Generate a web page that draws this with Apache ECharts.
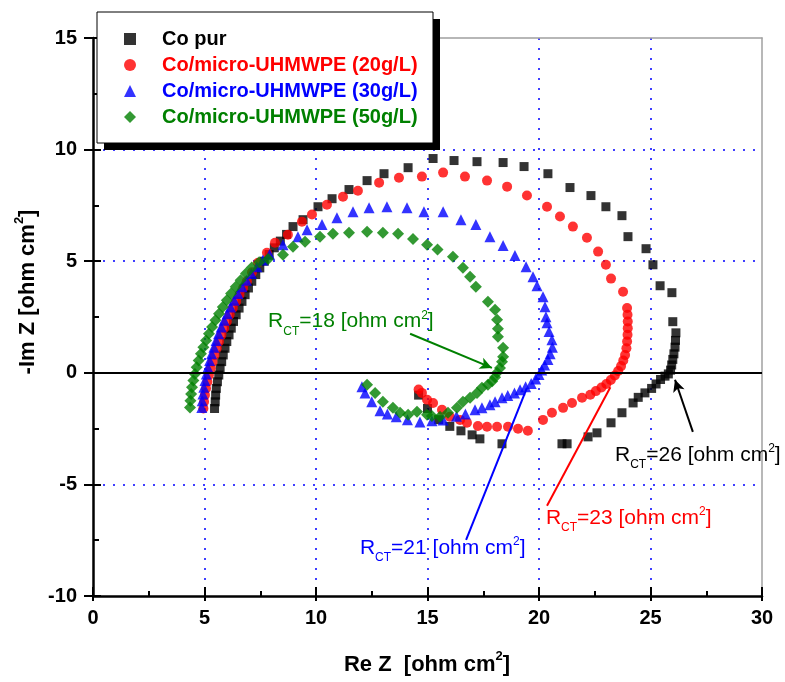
<!DOCTYPE html>
<html><head><meta charset="utf-8">
<script src="https://cdn.jsdelivr.net/npm/echarts@6/dist/echarts.min.js"></script>
<style>html,body{margin:0;padding:0;background:#fff}#c{width:785px;height:682px}</style>
</head><body><div id="c"></div>
<script>
const seriesNames = ['Co pur', 'Co/micro-UHMWPE (20g/L)', 'Co/micro-UHMWPE (30g/L)', 'Co/micro-UHMWPE (50g/L)'];
const rctValues = ['26', '23', '21', '18'];
const xTickValues = [0, 5, 10, 15, 20, 25, 30];
const yTickValues = [-10, -5, 0, 5, 10, 15];

const coPur = [[5.45,-1.6],[5.48,-1.3],[5.5,-1.0],[5.53,-0.7],[5.58,-0.4],[5.64,-0.1],[5.7,0.2],[5.77,0.5],[5.84,0.8],[5.92,1.1],[6.0,1.4],[6.1,1.7],[6.2,2.0],[6.3,2.3],[6.42,2.6],[6.55,2.9],[6.68,3.2],[6.82,3.5],[6.97,3.8],[7.12,4.1],[7.3,4.4],[7.48,4.7],[7.68,5.0],[7.9,5.3],[8.13,5.6],[8.4,5.9],[8.68,6.2],[8.97,6.55],[9.42,6.86],[10.09,7.44],[10.72,7.8],[11.48,8.21],[12.29,8.61],[13.05,8.92],[14.13,9.19],[15.25,9.6],[16.19,9.51],[17.22,9.46],[18.39,9.42],[19.33,9.24],[20.4,8.92],[21.39,8.3],[22.33,7.94],[23.0,7.44],[23.72,7.04],[23.99,6.1],[24.8,5.56],[25.11,4.84],[25.43,3.9],[25.96,3.59],[26.0,2.29],[26.14,1.79],[26.12,1.45],[26.1,1.15],[26.05,0.85],[26.0,0.6],[25.95,0.35],[25.9,0.12],[25.8,-0.05],[25.65,-0.15],[25.45,-0.3],[25.25,-0.5],[25.05,-0.7],[24.75,-0.9],[24.45,-1.1],[24.22,-1.35],[23.72,-1.79],[23.23,-2.24],[22.6,-2.69],[22.2,-2.87],[21.26,-3.18],[21.03,-3.18],[18.34,-3.18],[17.35,-2.96],[17.0,-2.78],[16.5,-2.6],[16.0,-2.4],[15.5,-2.1],[15.0,-1.6],[14.6,-1.0]];

const co20 = [[4.95,-1.6],[4.98,-1.3],[5.02,-1.0],[5.07,-0.7],[5.13,-0.4],[5.2,-0.1],[5.28,0.2],[5.36,0.5],[5.45,0.8],[5.55,1.1],[5.65,1.4],[5.76,1.7],[5.88,2.0],[6.0,2.3],[6.13,2.6],[6.27,2.9],[6.42,3.2],[6.57,3.5],[6.73,3.8],[6.9,4.1],[7.13,4.5],[7.4,4.93],[7.8,5.38],[8.16,5.83],[8.74,6.19],[9.37,6.77],[9.82,7.09],[10.49,7.53],[11.21,7.89],[11.88,8.16],[12.83,8.52],[13.72,8.74],[14.75,8.79],[15.7,8.97],[16.68,8.79],[17.67,8.61],[18.57,8.34],[19.46,7.94],[20.36,7.44],[20.94,7.0],[21.52,6.55],[22.15,6.05],[22.65,5.43],[23.0,4.84],[23.23,4.22],[23.77,3.63],[23.95,2.9],[23.97,2.6],[23.98,2.3],[23.98,2.0],[23.97,1.7],[23.95,1.4],[23.92,1.1],[23.86,0.8],[23.78,0.55],[23.68,0.3],[23.55,0.08],[23.4,-0.12],[23.22,-0.32],[23.02,-0.5],[22.8,-0.66],[22.55,-0.82],[22.3,-0.98],[21.93,-1.12],[21.48,-1.35],[21.08,-1.57],[20.58,-1.79],[20.18,-2.11],[19.5,-2.6],[19.06,-2.51],[18.61,-2.42],[18.12,-2.42],[17.67,-2.42],[17.26,-2.38],[16.77,-2.24],[16.46,-2.11],[16.0,-1.97],[15.65,-1.66],[15.25,-1.35],[14.98,-1.21],[14.75,-0.9],[14.6,-0.75]];

const co30 = [[4.88,-1.55],[4.9,-1.25],[4.93,-0.95],[4.97,-0.65],[5.02,-0.35],[5.08,-0.05],[5.15,0.25],[5.23,0.55],[5.32,0.85],[5.42,1.15],[5.52,1.45],[5.63,1.75],[5.75,2.05],[5.88,2.35],[6.02,2.65],[6.17,2.95],[6.33,3.25],[6.5,3.55],[6.68,3.85],[6.88,4.15],[7.1,4.45],[7.35,4.75],[7.62,5.05],[7.92,5.3],[8.52,5.74],[9.19,6.1],[9.6,6.41],[10.27,6.64],[10.94,6.95],[11.66,7.22],[12.38,7.4],[13.18,7.44],[14.08,7.4],[14.84,7.22],[15.7,7.22],[16.5,6.86],[17.17,6.64],[17.8,6.1],[18.39,5.7],[18.92,5.25],[19.42,4.75],[19.73,4.3],[19.91,3.9],[20.18,3.41],[20.27,2.96],[20.31,2.51],[20.36,2.24],[20.45,1.85],[20.58,1.48],[20.6,1.15],[20.5,0.85],[20.4,0.6],[20.25,0.35],[20.12,0.12],[20.0,-0.08],[19.85,-0.28],[19.65,-0.48],[19.4,-0.62],[19.15,-0.76],[18.9,-0.9],[18.6,-1.02],[18.34,-1.12],[18.03,-1.3],[17.8,-1.43],[17.44,-1.57],[17.13,-1.66],[16.7,-1.85],[16.3,-1.95],[15.7,-2.11],[15.2,-2.15],[14.66,-2.2],[14.1,-2.1],[13.6,-1.97],[13.2,-1.85],[12.87,-1.7],[12.5,-1.3],[12.2,-0.9],[12.06,-0.63]];

const co50 = [[4.35,-1.55],[4.37,-1.25],[4.4,-0.95],[4.44,-0.65],[4.5,-0.35],[4.57,-0.05],[4.65,0.25],[4.74,0.55],[4.84,0.85],[4.95,1.15],[5.07,1.45],[5.2,1.75],[5.34,2.05],[5.49,2.35],[5.65,2.65],[5.82,2.95],[6.0,3.25],[6.19,3.55],[6.4,3.85],[6.62,4.15],[6.86,4.45],[7.12,4.72],[7.45,4.95],[7.85,5.1],[8.52,5.29],[8.97,5.65],[9.51,5.87],[10.18,6.1],[10.76,6.23],[11.48,6.28],[12.29,6.32],[13.0,6.28],[13.68,6.23],[14.35,6.0],[14.98,5.74],[15.45,5.52],[16.14,5.2],[16.59,4.71],[16.91,4.3],[17.17,3.86],[17.71,3.18],[18.03,2.83],[18.12,2.38],[18.16,1.97],[18.16,1.61],[18.39,1.12],[18.39,0.72],[18.34,0.49],[18.25,0.22],[18.12,0.0],[18.03,-0.2],[17.9,-0.38],[17.71,-0.54],[17.44,-0.67],[17.22,-0.9],[16.91,-1.12],[16.59,-1.3],[16.32,-1.57],[15.92,-1.79],[15.56,-1.97],[15.2,-1.93],[14.98,-1.88],[14.53,-1.75],[14.13,-1.88],[13.77,-1.79],[13.45,-1.57],[13.0,-1.3],[12.65,-0.9],[12.29,-0.54]];

const FONT = "'Liberation Sans', Arial, sans-serif";
const colors = ['#000000', '#ff0000', '#0000ff', '#008000'];
const symbols = ['rect', 'circle', 'triangle', 'diamond'];
const symbolSizes = [9, 10, 11, 12];
const datasets = [coPur, co20, co30, co50];

function rctRich(color) {
  return {
    a: {fontSize: 21, lineHeight: 30, color: color, fontFamily: FONT},
    b: {fontSize: 12, lineHeight: 12, padding: [20, 0, 0, 0], color: color, fontFamily: FONT},
    c: {fontSize: 12, lineHeight: 12, padding: [0, 0, 12, 0], color: color, fontFamily: FONT}
  };
}
function rctText(v) { return '{a|R}{b|CT}{a|=' + v + ' [ohm cm}{c|2}{a|]}'; }

// annotation anchors (data coordinates)
const labelAnchors = [[23.41, -3.68], [20.31, -6.5], [11.97, -7.85], [7.85, 2.29]];
const arrowLines = [
  [[26.9, -2.65], [26.1, -0.31], true],
  [[20.36, -5.96], [23.2, -0.65], false],
  [[16.73, -7.49], [19.45, -0.7], false],
  [[14.22, 1.75], [17.89, 0.22], true]
];

const series = datasets.map((d, i) => {
  const mlData = [[
    {coord: arrowLines[i][0], symbol: 'none'},
    {coord: arrowLines[i][1], symbol: arrowLines[i][2] ? 'arrow' : 'none', symbolSize: [9, 12]}
  ]];
  if (i === 0) {
    mlData.push([{coord: [0, 0], symbol: 'none'}, {coord: [30, 0], symbol: 'none'}]);
  }
  return {
    name: seriesNames[i],
    type: 'scatter',
    xAxisIndex: 0, yAxisIndex: 0,
    data: d,
    symbol: symbols[i],
    symbolSize: symbolSizes[i],
    itemStyle: {color: colors[i]},
    emphasis: {disabled: true},
    markLine: {
      silent: true,
      symbol: ['none', 'none'],
      label: {show: false},
      lineStyle: {color: colors[i], width: 2, type: 'solid'},
      emphasis: {disabled: true},
      data: mlData
    },
    markPoint: {
      silent: true,
      symbol: 'circle',
      symbolSize: 0,
      itemStyle: {color: 'transparent'},
      label: {show: true, position: 'right', distance: 0, formatter: rctText(rctValues[i]), rich: rctRich(colors[i])},
      data: [{coord: labelAnchors[i]}]
    }
  };
});

const axisLineMain = {onZero: false, lineStyle: {color: '#000', width: 2.5}};
const tickStyle = {color: '#000', width: 2};
const labelStyle = {fontSize: 20, fontWeight: 'bold', color: '#000', fontFamily: FONT};
const gridDot = {show: true, showMinLine: false, showMaxLine: false, lineStyle: {color: '#0000ff', type: [2, 8], width: 1.5}};
const titleRich = {
  a: {fontSize: 22, fontWeight: 'bold', lineHeight: 30, fill: '#000', fontFamily: FONT},
  c: {fontSize: 13, fontWeight: 'bold', lineHeight: 22, verticalAlign: 'top', fill: '#000', fontFamily: FONT}
};

const option = {
  animation: false,
  backgroundColor: '#fff',
  grid: {left: 93, right: 23, top: 38, bottom: 86, containLabel: false},
  xAxis: [
    {type: 'value', min: xTickValues[0], max: xTickValues[xTickValues.length - 1], interval: 5, position: 'bottom',
     axisLine: axisLineMain, axisTick: {show: true, inside: false, length: 5, lineStyle: tickStyle},
     axisLabel: Object.assign({margin: 12}, labelStyle), splitLine: gridDot},
    {type: 'value', min: 0, max: 30, interval: 5, position: 'bottom',
     axisLine: {show: false, onZero: false}, axisTick: {show: true, inside: true, length: 9, lineStyle: tickStyle},
     minorTick: {show: true, splitNumber: 2, length: 5, lineStyle: tickStyle},
     axisLabel: {show: false}, splitLine: {show: false}},
    {type: 'value', min: 0, max: 30, interval: 5, position: 'top',
     axisLine: {show: true, onZero: false, lineStyle: {color: '#a0a0a0', width: 1.5}},
     axisTick: {show: false}, axisLabel: {show: false}, splitLine: {show: false}}
  ],
  yAxis: [
    {type: 'value', min: yTickValues[0], max: yTickValues[yTickValues.length - 1], interval: 5, position: 'left',
     axisLine: axisLineMain, axisTick: {show: true, inside: false, length: 9, lineStyle: tickStyle},
     axisLabel: Object.assign({margin: 16}, labelStyle), splitLine: gridDot},
    {type: 'value', min: -10, max: 15, interval: 5, position: 'left',
     axisLine: {show: false, onZero: false}, axisTick: {show: true, inside: true, length: 8, lineStyle: tickStyle},
     minorTick: {show: true, splitNumber: 2, length: 6, lineStyle: tickStyle},
     axisLabel: {show: false}, splitLine: {show: false}},
    {type: 'value', min: -10, max: 15, interval: 5, position: 'right',
     axisLine: {show: true, onZero: false, lineStyle: {color: '#a0a0a0', width: 1.5}},
     axisTick: {show: false}, axisLabel: {show: false}, splitLine: {show: false}}
  ],
  legend: {
    orient: 'vertical', left: 97, top: 12, z: 6,
    itemWidth: 12, itemHeight: 12, itemGap: 6,
    padding: [17, 14, 16, 27],
    backgroundColor: 'transparent', borderWidth: 0,
    selectedMode: false,
    textStyle: {fontSize: 20, fontWeight: 'bold', fontFamily: FONT, padding: [0, 0, 0, 21]},
    data: seriesNames.map((n, i) => ({name: n, textStyle: {color: colors[i]}}))
  },
  graphic: [
    {type: 'rect', x: 104, y: 19, z: 5, shape: {width: 336, height: 131}, style: {fill: '#000'}, silent: true},
    {type: 'rect', x: 97, y: 12, z: 5, shape: {width: 336, height: 131}, style: {fill: '#fff', stroke: '#000', lineWidth: 1}, silent: true},
    {type: 'text', x: 427, y: 665, z: 10,
     style: {text: '{a|Re Z  [ohm cm}{c|2}{a|]}', align: 'center', verticalAlign: 'middle', rich: titleRich}},
    {type: 'text', x: 28, y: 292, rotation: Math.PI / 2, z: 10,
     style: {text: '{a|-Im Z [ohm cm}{c|2}{a|]}', align: 'center', verticalAlign: 'middle', rich: titleRich}}
  ],
  series: series
};

const chart = echarts.init(document.getElementById('c'), null, {renderer: 'canvas'});
chart.setOption(option);
</script>
</body></html>
